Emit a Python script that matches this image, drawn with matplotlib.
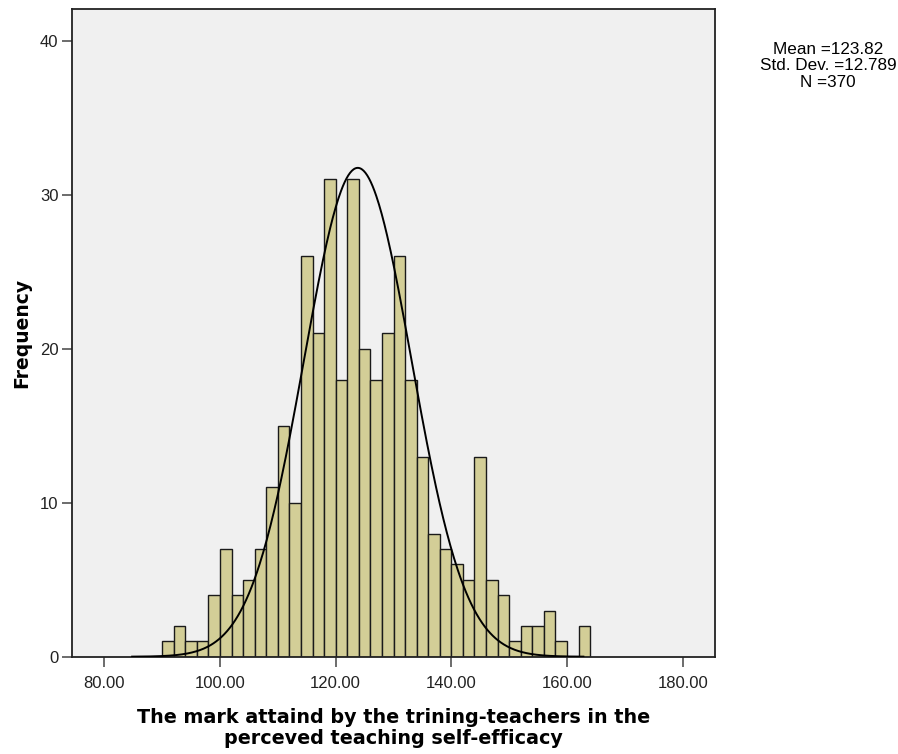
import numpy as np
import matplotlib
matplotlib.use('Agg')
import matplotlib.pyplot as plt

plt.rcParams['font.family'] = ['Liberation Sans', 'DejaVu Sans']

# histogram bins (width 2) and counts
bin_left = [90, 92, 94, 96, 98, 100, 102, 104, 106, 108, 110, 112,
            114, 116, 118, 120, 122, 124, 126, 128, 130, 132,
            134, 136, 138, 140, 142, 144, 146, 148, 150, 152, 154, 156, 158, 160, 162]
counts = [1, 2, 1, 1, 4, 7, 4, 5, 7, 11, 15, 10,
          26, 21, 31, 18, 31, 20, 18, 21, 26, 18,
          13, 8, 7, 6, 5, 13, 5, 4, 1, 2, 2, 3, 1, 0, 2]
bin_width = 2

x_ticks = [80, 100, 120, 140, 160, 180]
y_ticks = [0, 10, 20, 30, 40]

# summary stats shown in the legend box
mean_val = 123.82
sd_val = 12.789
n_val = 370
# the drawn curve is narrower than the stated sd
curve_sd = 9.3

W, H = 898, 754
fig = plt.figure(figsize=(W / 100, H / 100), dpi=100)
fig.patch.set_facecolor('white')

left, right, top, bottom = 72.3, 715, 9, 656.7
ax = fig.add_axes([left / W, 1 - bottom / H, (right - left) / W, (bottom - top) / H])
ax.set_facecolor('#f0f0f0')

ax.bar(bin_left, counts, width=bin_width, align='edge',
       color='#d3ce97', edgecolor='#1a1a1a', linewidth=1.0, zorder=2)

# normal curve scaled to N * bin width
xs = np.linspace(mean_val - 3.05 * sd_val, mean_val + 3.05 * sd_val, 500)
ys = n_val * bin_width / (curve_sd * np.sqrt(2 * np.pi)) * np.exp(-0.5 * ((xs - mean_val) / curve_sd) ** 2)
ax.plot(xs, ys, color='black', linewidth=1.4, zorder=3)

ax.set_xlim(74.47, 185.58)
ax.set_ylim(0, 42.06)
ax.set_xticks(x_ticks)
ax.set_xticklabels([f'{v:.2f}' for v in x_ticks])
ax.set_yticks(y_ticks)

for sp in ax.spines.values():
    sp.set_color('#222222')
    sp.set_linewidth(1.3)

ax.tick_params(axis='both', direction='out', length=7, width=1.1, color='#444444',
               labelsize=12, labelcolor='#222222')
ax.tick_params(axis='x', pad=7)
ax.tick_params(axis='y', pad=3)

fig.text(393.5 / W, 1 - 728 / H,
         'The mark attaind by the trining-teachers in the\nperceved teaching self-efficacy',
         ha='center', va='center', fontsize=13.8, fontweight='bold', linespacing=1.12,
         family='DejaVu Sans')
fig.text(22 / W, 1 - 333 / H, 'Frequency', rotation=90, ha='center', va='center',
         fontsize=13.5, fontweight='bold', family='DejaVu Sans')

fig.text(828 / W, 1 - 66 / H,
         f'Mean ={mean_val}\nStd. Dev. ={sd_val}\nN ={n_val}',
         ha='center', va='center', fontsize=12.3, linespacing=1.15)

fig.savefig('out.png', dpi=100)
